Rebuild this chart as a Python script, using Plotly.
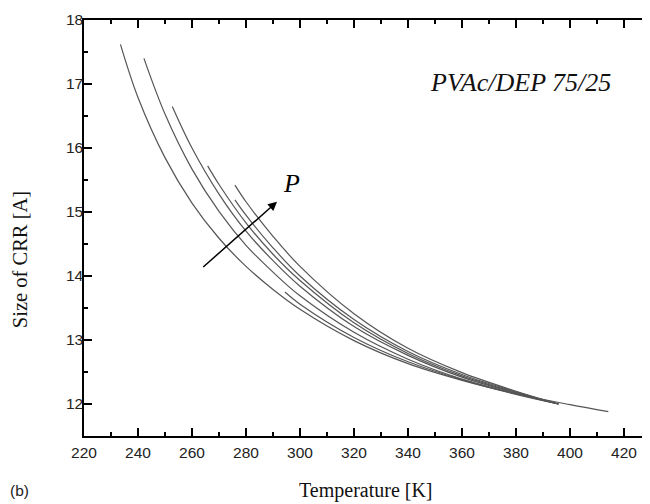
import plotly.graph_objects as go

# Curve data (Temperature [K], Size of CRR [A])
T_a = [233.5, 240, 250, 260, 270, 280, 290, 300, 320, 340, 360, 380, 400, 414.2]
S_a = [17.62, 16.79, 15.85, 15.14, 14.59, 14.15, 13.79, 13.48, 12.99, 12.63, 12.37, 12.16, 11.99, 11.88]

T_b = [242.2, 250, 260, 270, 280, 290, 300, 320, 340, 360, 380, 395.7]
S_b = [17.40, 16.53, 15.67, 15.01, 14.48, 14.06, 13.69, 13.12, 12.70, 12.39, 12.16, 12.00]

T_c = [252.7, 260, 270, 280, 290, 300, 320, 340, 360, 380, 395.7]
S_c = [16.65, 16.00, 15.28, 14.70, 14.24, 13.84, 13.21, 12.76, 12.42, 12.17, 12.00]

T_d = [265.8, 270, 280, 290, 300, 320, 340, 360, 380, 395.7]
S_d = [15.72, 15.43, 14.83, 14.34, 13.93, 13.27, 12.79, 12.44, 12.18, 12.00]

T_e = [275.9, 280, 290, 300, 320, 340, 360, 380, 395.7]
S_e = [15.42, 15.16, 14.62, 14.15, 13.41, 12.87, 12.49, 12.20, 12.00]

T_f = [275.9, 280, 290, 300, 320, 340, 360, 380, 395.7]
S_f = [15.19, 14.95, 14.44, 14.00, 13.32, 12.82, 12.46, 12.19, 12.00]

T_g = [294.4, 300, 320, 340, 360, 380, 395.7]
S_g = [13.75, 13.56, 13.04, 12.66, 12.38, 12.15, 12.00]

curves = [(T_a, S_a), (T_b, S_b), (T_c, S_c), (T_d, S_d), (T_e, S_e), (T_f, S_f), (T_g, S_g)]

x_ticks = [220, 240, 260, 280, 300, 320, 340, 360, 380, 400, 420]
y_ticks = [12, 13, 14, 15, 16, 17, 18]

arrow_tail = (263.6, 14.12)
arrow_tip = (291.5, 15.16)

fig = go.Figure()
for T, S in curves:
    fig.add_trace(go.Scatter(x=T, y=S, mode="lines",
                             line=dict(color="#555555", width=1.2, shape="spline"),
                             showlegend=False, hoverinfo="skip"))

axis_common = dict(showline=True, linecolor="black", linewidth=1.5, mirror="ticks",
                   ticks="inside", ticklen=8, tickwidth=1.5, tickcolor="black",
                   showgrid=False, zeroline=False, automargin=False,
                   tickfont=dict(family="Liberation Sans, Arial", size=15.5, color="#222222"))

fig.update_xaxes(range=[220, 430], tickvals=x_ticks, ticktext=[str(v) for v in x_ticks],
                 ticklabelstandoff=2,
                 minor=dict(dtick=10, ticklen=4, ticks="inside", tickcolor="black", tickwidth=1.5),
                 **axis_common)
fig.update_yaxes(range=[11.5, 18], tickvals=y_ticks, ticktext=[str(v) for v in y_ticks],
                 ticklabelstandoff=-4,
                 minor=dict(dtick=0.5, ticklen=4, ticks="inside", tickcolor="black", tickwidth=1.5),
                 **axis_common)

serif = "Liberation Serif, Times New Roman, serif"

fig.add_annotation(x=arrow_tip[0], y=arrow_tip[1], ax=arrow_tail[0], ay=arrow_tail[1],
                   xref="x", yref="y", axref="x", ayref="y", text="", showarrow=True,
                   arrowhead=2, arrowsize=1.2, arrowwidth=1.5, arrowcolor="black")
fig.add_annotation(x=296.9, y=15.45, xref="x", yref="y", text="<i>P</i>", showarrow=False,
                   font=dict(family=serif, size=26, color="black"))
fig.add_annotation(x=381.7, y=17.03, xref="x", yref="y", text="<i>PVAc/DEP 75/25</i>",
                   showarrow=False, font=dict(family=serif, size=26, color="#111111"))
fig.add_annotation(text="Temperature [K]", x=0.497, y=-0.130, xref="paper", yref="paper",
                   xanchor="center", yanchor="middle", showarrow=False,
                   font=dict(family=serif, size=20, color="#111111"))
fig.add_annotation(text="Size of CRR [A]", x=-0.113, y=0.425, xref="paper", yref="paper",
                   xanchor="center", yanchor="middle", textangle=-90, showarrow=False,
                   font=dict(family=serif, size=20.5, color="#111111"))
fig.add_annotation(text="(b)", x=-0.113, y=-0.130, xref="paper", yref="paper",
                   xanchor="center", yanchor="middle", showarrow=False,
                   font=dict(family="Liberation Sans, Arial", size=15.5, color="#222222"))

fig.update_layout(
    width=650, height=504,
    margin=dict(l=76, r=7, t=12, b=76),
    paper_bgcolor="white", plot_bgcolor="white",
)

fig.write_html("out.html")
